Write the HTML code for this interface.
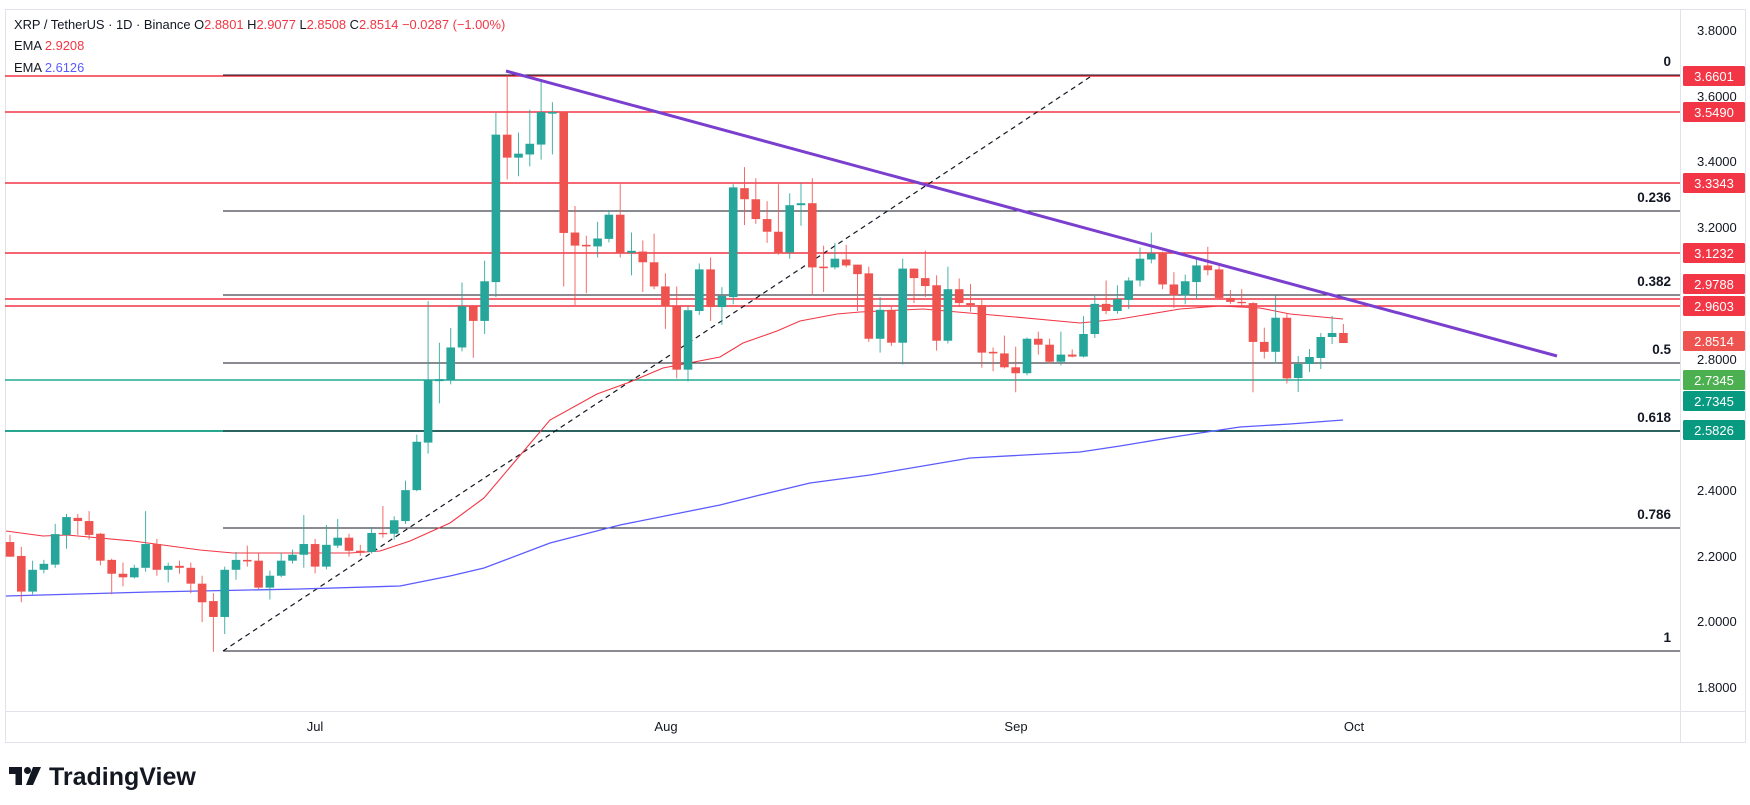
<!DOCTYPE html>
<html><head><meta charset="utf-8"><style>
html,body{margin:0;padding:0;background:#fff;width:1750px;height:805px;overflow:hidden}
svg{display:block}
text{font-family:"Liberation Sans",sans-serif}
</style></head><body>
<svg id="s" width="1750" height="805" viewBox="0 0 1750 805" xmlns="http://www.w3.org/2000/svg">
<rect x="0" y="0" width="1750" height="805" fill="#fff"/>
<rect x="5.5" y="9.5" width="1740" height="733" fill="none" stroke="#e0e3eb" stroke-width="1"/>
<line x1="1680.5" y1="9" x2="1680.5" y2="742" stroke="#e0e3eb"/>
<line x1="5" y1="711.5" x2="1745" y2="711.5" stroke="#e0e3eb"/>
<g id="lines"></g>
<g id="candles"></g>
<g id="over"></g>
<g font-size="13" fill="#131722">
<text x="315" y="731" text-anchor="middle">Jul</text>
<text x="666" y="731" text-anchor="middle">Aug</text>
<text x="1016" y="731" text-anchor="middle">Sep</text>
<text x="1354" y="731" text-anchor="middle">Oct</text>
</g>
<g font-size="12.9" fill="#131722">
<text x="14" y="29">XRP / TetherUS · 1D · Binance  O<tspan fill="#f23645">2.8801</tspan>  H<tspan fill="#f23645">2.9077</tspan>  L<tspan fill="#f23645">2.8508</tspan>  C<tspan fill="#f23645">2.8514</tspan>  <tspan fill="#f23645">−0.0287 (−1.00%)</tspan></text>
<text x="14" y="50">EMA  <tspan fill="#f23645">2.9208</tspan></text>
<text x="14" y="72">EMA  <tspan fill="#5b5bff">2.6126</tspan></text>
</g>
<g transform="translate(9,767)">
<path d="M0 0h13v18h-6.5v-11h-6.5z" fill="#131722"/>
<circle cx="18.5" cy="3.5" r="3.5" fill="#131722"/>
<path d="M24 0h8l-8 18h-7z" fill="#131722"/>
<text x="40" y="18" font-size="25" font-weight="bold" fill="#131722">TradingView</text>
</g>
</svg>
<script>
const NS="http://www.w3.org/2000/svg";
function el(g,t,a,txt){const e=document.createElementNS(NS,t);for(const k in a)e.setAttribute(k,a[k]);if(txt!==undefined)e.textContent=txt;document.getElementById(g).appendChild(e);return e;}
const Y=z=>76+(z-67)*0.3963;
const red="#f23645", teal="#089981", blk="#131722";
[[76,red],[112,red],[183,red],[253,red],[299,red],[306,red]].forEach(([y,c])=>el("lines","line",{x1:5,x2:1680,y1:y,y2:y,stroke:c,"stroke-width":1.5}));
el("lines","line",{x1:5,x2:1680,y1:380,y2:380,stroke:"#22ab94","stroke-width":1.5});
el("lines","line",{x1:5,x2:1680,y1:431,y2:431,stroke:teal,"stroke-width":1.8});
[[75,"0"],[211,"0.236"],[295,"0.382"],[363,"0.5"],[431,"0.618"],[528,"0.786"],[651,"1"]].forEach(([y,t])=>{
 el("lines","line",{x1:223,x2:1680,y1:y,y2:y,stroke:blk,"stroke-width":1});
 el("lines","text",{x:1671,y:y-9,"text-anchor":"end","font-size":"13.5","font-weight":"bold",fill:blk},t);
});
el("lines","line",{x1:223,y1:651,x2:1090,y2:77,stroke:blk,"stroke-width":1.2,"stroke-dasharray":"5,4"});
const blue=[[6,596],[150,592],[300,589],[400,586],[450,576],[484,568],[550,543],[620,525],[670,515],[720,505],[760,495],[810,483],[870,475],[970,458],[1080,452],[1120,446],[1180,436],[1240,427],[1290,424],[1343,420]];
const redE=[[6,531],[43,536],[67,535],[133,541],[200,550],[233,553],[300,553],[350,553],[380,551],[410,541],[450,523],[484,498],[550,420],[597,394],[630,382],[663,368],[720,357],[743,343],[777,331],[800,321],[837,314],[860,312],[923,309],[1015,317],[1080,323],[1120,319],[1180,309],[1220,306],[1260,308],[1290,314],[1343,319]];
el("lines","polyline",{points:blue.map(p=>p.join(",")).join(" "),fill:"none",stroke:"#5b5bff","stroke-width":1.3});
el("lines","polyline",{points:redE.map(p=>p.join(",")).join(" "),fill:"none",stroke:"#f23645","stroke-width":1.1});
const C=[
[1243,1280,1225,1280,0],[1278,1368,1255,1395,0],[1313,1368,1290,1375,1],[1298,1313,1288,1322,1],[1223,1300,1197,1308,1],[1180,1225,1172,1260,1],[1182,1190,1172,1225,0],[1190,1225,1165,1237,0],[1222,1290,1220,1302,0],[1288,1323,1285,1375,0],
[1323,1332,1295,1355,0],[1308,1332,1300,1335,1],[1248,1308,1165,1318,1],[1248,1313,1235,1328,0],[1303,1313,1295,1345,1],[1303,1308,1290,1323,0],[1308,1348,1295,1372,0],[1348,1395,1328,1445,0],[1392,1432,1372,1520,0],[1313,1432,1305,1475,1],
[1288,1313,1268,1338,1],[1288,1292,1252,1305,0],[1290,1358,1270,1362,0],[1328,1358,1315,1388,1],[1290,1328,1270,1332,1],[1275,1290,1262,1297,1],[1248,1275,1175,1308,1],[1248,1305,1235,1322,0],[1250,1305,1200,1312,1],[1232,1252,1185,1258,1],
[1232,1265,1222,1280,0],[1265,1270,1250,1278,0],[1220,1268,1205,1272,1],[1220,1222,1152,1232,0],[1188,1222,1178,1237,1],[1112,1190,1088,1197,1],[990,1112,972,1115,1],[835,992,635,1020,1],[832,837,740,893,1],[752,835,703,845,1],
[648,752,588,762,1],[648,685,648,778,0],[585,685,533,718,1],[215,587,160,625,1],[215,273,65,328,0],[263,273,210,320,1],[238,265,152,295,1],[158,240,80,278,1],[158,162,133,265,1],[158,463,158,598,0],
[462,495,395,645,0],[493,497,470,615,0],[477,497,435,525,1],[417,478,405,487,1],[417,513,340,525,0],[508,513,462,570,1],[510,537,482,612,0],[537,598,465,605,0],[598,648,565,705,0],[648,808,598,830,0],
[658,808,648,838,1],[555,660,540,670,1],[555,650,525,685,0],[622,650,600,695,1],[348,625,340,643,1],[350,378,297,443,0],[378,428,325,440,0],[428,460,383,488,0],[460,515,340,518,0],[393,512,363,528,1],
[388,393,338,445,1],[388,550,325,620,0],[548,552,495,612,0],[528,550,488,555,1],[530,545,493,550,0],[543,567,543,660,0],[565,730,548,738,0],[657,730,625,765,1],[657,740,650,748,0],[553,740,528,795,1],
[553,577,553,640,0],[577,597,508,625,0],[595,735,570,760,0],[605,735,548,742,1],[605,640,578,650,0],[640,645,592,662,0],[645,765,632,803,0],[763,767,752,812,0],[767,802,722,805,0],[802,817,750,865,0],
[730,817,727,822,1],[730,745,712,770,0],[745,788,730,792,0],[770,788,712,797,1],[770,775,757,777,0],[718,775,673,777,1],[642,718,622,728,1],[642,660,583,668,0],[630,660,595,667,1],[583,632,575,655,1],
[528,583,500,598,1],[515,530,462,540,1],[512,593,510,605,0],[593,620,562,652,0],[585,620,568,643,1],[545,587,528,630,1],[545,557,498,570,0],[555,627,540,630,0],[627,637,607,642,0],[637,640,605,648,0],
[640,738,638,865,0],[738,763,702,780,0],[677,763,620,792,1],[677,830,665,843,0]
].map(a=>[Y(a[0]),Y(a[1]),Y(a[2]),Y(a[3]),a[4]]);
C.push([364,378,356,392,1],[357,364,349,372,1],[337,358,333,369,1],[333,337,316,344,1],[333,343,324,343,0]);
C.forEach((c,i)=>{
 const x=10+i*11.3;
 const col=c[4]?"#26a69a":"#ef5350";
 el("candles","line",{x1:x,x2:x,y1:c[2],y2:c[3],stroke:col,"stroke-width":1,opacity:0.85});
 el("candles","rect",{x:x-4.3,y:c[0],width:8.6,height:Math.max(1.3,c[1]-c[0]),fill:col});
});
el("over","line",{x1:506,y1:71,x2:1557,y2:356,stroke:"#7b3fcf","stroke-width":3});
[[30,"3.8000"],[96,"3.6000"],[161,"3.4000"],[227,"3.2000"],[359,"2.8000"],[490,"2.4000"],[556,"2.2000"],[621,"2.0000"],[687,"1.8000"]].forEach(([y,t])=>el("over","text",{x:1697,y:y+5,"font-size":"13",fill:"#131722"},t));
[[76,"3.6601",red],[112,"3.5490",red],[183,"3.3343",red],[253,"3.1232",red],[284,"2.9788",red],[306,"2.9603",red],[341,"2.8514","#ef5350"],[380,"2.7345","#4caf50"],[401,"2.7345",teal],[430,"2.5826",teal]].forEach(([y,t,c])=>{
 el("over","rect",{x:1683,y:y-10,width:62,height:20,fill:c,rx:1.5});
 el("over","text",{x:1714,y:y+5,"text-anchor":"middle","font-size":"13",fill:"#fff"},t);
});
</script>
</body></html>
